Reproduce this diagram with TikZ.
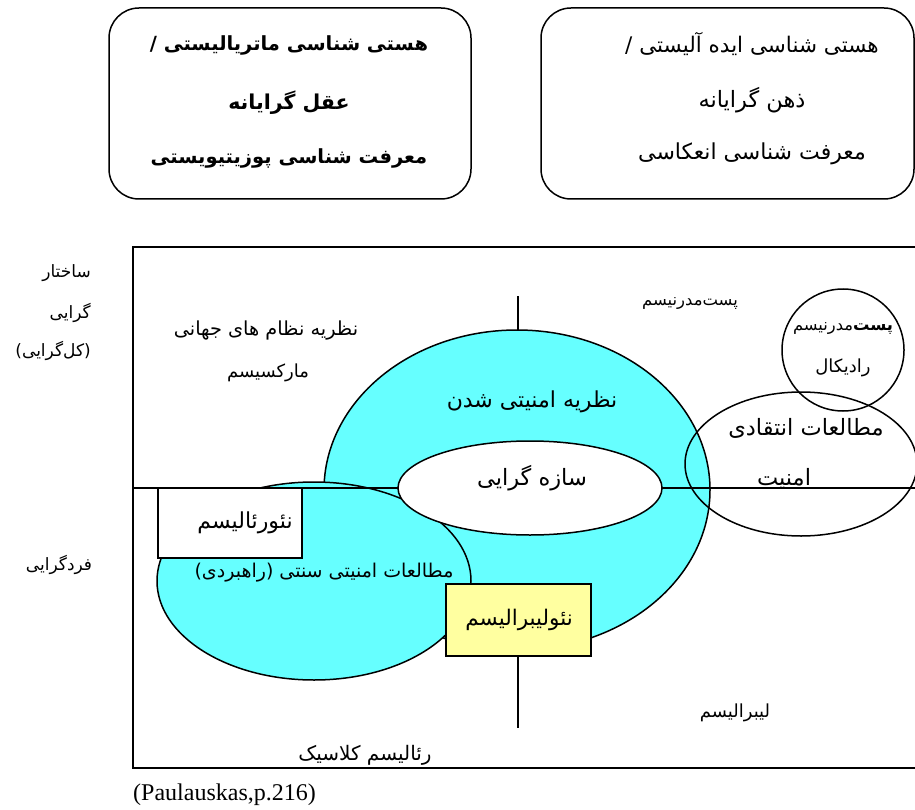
\documentclass[tikz,border=0pt]{standalone}
\usepackage{fontspec}
\setmainfont{Liberation Serif}
\newfontfamily\fa[Script=Arabic]{DejaVu Sans}
\TeXXeTstate=1
\usepackage{xcolor}
\definecolor{securcyan}{RGB}{102,255,255}
\definecolor{liberyellow}{RGB}{255,255,160}
\newcommand{\rl}[1]{\beginR #1\endR}

\begin{document}
\begin{tikzpicture}[x=1pt, y=-1pt,
	frame/.style={line width=1.5pt},
	axis/.style={line width=1.3pt},
	fa/.style={font=\fa\fontsize{#1}{#1}\selectfont, inner sep=0pt},
	fabold/.style={font=\fa\bfseries\fontsize{#1}{#1}\selectfont, inner sep=0pt}]
				\useasboundingbox (0,0) rectangle (915,810);
				% top boxes
				\draw[frame, rounded corners=30] (109,8) rectangle (471,199);
				\draw[frame, rounded corners=30] (541,8) rectangle (914,199);
				\node[fabold=19.5] (mat1) at (289,45) {\rl{هستی شناسی ماتریالیستی /}};
				\node[fabold=20.5] (mat2) at (289,103) {\rl{عقل گرایانه}};
				\node[fabold=19.5] (mat3) at (289,158) {\rl{معرفت شناسی پوزیتیویستی}};
				\node[fa=21.5] (ide1) at (752,44) {\rl{هستی شناسی ایده آلیستی /}};
				\node[fa=22.5] (ide2) at (752,100) {\rl{ذهن گرایانه}};
				\node[fa=22] (ide3) at (752,154) {\rl{معرفت شناسی  انعکاسی}};
				% frame and axes
				\draw[frame] (133,247) rectangle (918,768);
				\coordinate (vtop) at (518,296);
				\coordinate (vbot) at (518,728);
				\coordinate (hleft) at (133,488);
				\coordinate (hright) at (918,488);
				\draw[axis] (vtop) -- (vbot);
				\draw[frame, fill=securcyan] (517,490) ellipse [x radius=193, y radius=160];
				\draw[frame, fill=securcyan] (314,581) ellipse [x radius=157, y radius=99];
				\draw[axis] (hleft) -- (hright);
				\draw[frame, fill=white] (530,488) ellipse [x radius=132, y radius=47];
				\draw[frame] (801,464) ellipse [x radius=116, y radius=72];
				\draw[frame] (843,350) circle (61);
				\draw[frame, fill=white] (158,488) rectangle (302,558);
				\draw[frame, fill=liberyellow] (446,584) rectangle (591,656);
				% side labels
				\node[fa=17, anchor=east] (str1) at (91,273) {\rl{ساختار}};
				\node[fa=17, anchor=east] (str2) at (91,313) {\rl{گرایی}};
				\node[fa=17, anchor=east] (str3) at (91,351) {\rl{(کل‌گرایی)}};
				\node[fa=17] (indiv) at (59,565) {\rl{فردگرایی}};
				% labels inside the frame
				\node[fa=19.3] (world) at (266,331) {\rl{نظریه نظام های جهانی}};
				\node[fa=18] (marx) at (268,373) {\rl{مارکسیسم}};
				\node[fa=16.4] (postm) at (690,303) {\rl{پست‌مدرنیسم}};
				\node[fa=16.3] (rad1) at (843,329) {\rl{{\bfseries پست}مدرنیسم}};
				\node[fa=18] (rad2) at (843,368) {\rl{رادیکال}};
				\node[fa=22] (securit) at (532,402) {\rl{نظریه امنیتی شدن}};
				\node[fa=22.5] (constr) at (532,478) {\rl{سازه گرایی}};
				\node[fa=22.5] (crit1) at (806,428) {\rl{مطالعات انتقادی}};
				\node[fa=22.5] (crit2) at (784,479) {\rl{امنیت}};
				\node[fa=22] (neoreal) at (245,523) {\rl{نئورئالیسم}};
				\node[fa=19] (tradit) at (324,573) {\rl{مطالعات امنیتی سنتی (راهبردی)}};
				\node[fa=21.5] (neolib) at (519,620) {\rl{نئولیبرالیسم}};
				\node[fa=18] (liber) at (735,713) {\rl{لیبرالیسم}};
				\node[fa=20] (classic) at (365,755) {\rl{رئالیسم کلاسیک}};
				\node[font=\fontsize{24}{28}\selectfont, anchor=west, inner sep=0pt] (source) at (133,795) {(Paulauskas,p.216)};
			\end{tikzpicture}
\end{document}
